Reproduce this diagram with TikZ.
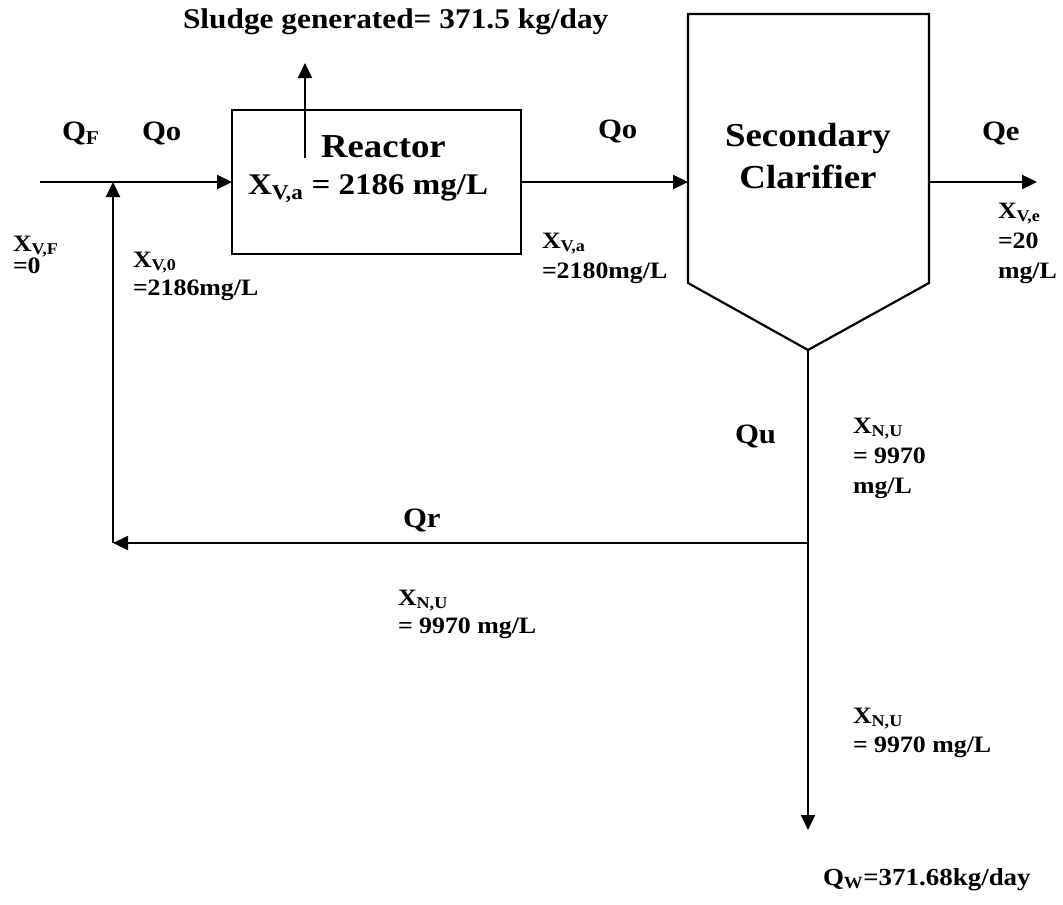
\documentclass[tikz,border=0pt]{standalone}
\usepackage{fontspec}
\setmainfont{Liberation Serif}[FakeStretch=1.1]
\usetikzlibrary{arrows.meta}
\newcommand\stk[1]{\begin{tabular}[t]{@{}l@{}}#1\end{tabular}}
\newcommand\stc[1]{\begin{tabular}[t]{@{}c@{}}#1\end{tabular}}
\begin{document}
\begin{tikzpicture}[x=1pt,y=-1pt,line width=2.2pt,
  flow/.style={-{Triangle[length=15pt,width=14pt]}},
  txt/.style={anchor=base west,inner sep=0pt,outer sep=0pt,font=\bfseries},
  qlab/.style={txt,font=\bfseries\fontsize{28}{30}\selectfont},
  small/.style={txt,font=\bfseries\fontsize{23.5}{#1}\selectfont},
  big/.style={font=\bfseries\fontsize{33.5}{42}\selectfont,inner sep=0pt}]
\useasboundingbox (0,0) rectangle (1063,905);
% units
\node (reactor) [draw,inner sep=0pt,outer sep=0pt,minimum width=289pt,minimum height=144pt,anchor=north west] at (232,110) {};
\draw (688,14) -- (929,14) -- (929,283) -- (808,350) -- (688,283) -- cycle;
\coordinate (clin) at (688,182);
\coordinate (clout) at (929,182);
\coordinate (clbot) at (808,350);
\coordinate (feedstart) at (40,182);
\coordinate (junc) at (113,182);
\coordinate (corner) at (113,543);
\coordinate (split) at (808,543);
\coordinate (effend) at (1037,182);
\coordinate (wasteend) at (808,830);
\coordinate (sl1) at (305,158);
\coordinate (sl2) at (305,63);
% connectors
\draw[flow] (feedstart) -- (reactor.west);
\draw[flow] (reactor.east) -- (clin);
\draw[flow] (clout) -- (effend);
\draw[flow] (clbot) -- (wasteend);
\draw[flow] (split) -- (corner);
\draw[flow] (corner) -- (junc);
\draw[flow] (sl1) -- (sl2);
% texts
\node (sludge) [txt,font=\bfseries\fontsize{28.5}{30}\selectfont] at (183,28) {Sludge generated= 371.5 kg/day};
\node (reacttitle) [txt,font=\bfseries\fontsize{33.5}{40}\selectfont] at (321,157) {Reactor};
\node (reactval) [txt,font=\bfseries\fontsize{30}{30}\selectfont] at (248,194) {X\textsubscript{V,a} = 2186 mg/L};
\node (clartitle) [big,anchor=base] at (808,146) {\stc{Secondary\\Clarifier}};
\node (qf) [qlab] at (62,140) {Q\textsubscript{F}};
\node (qo1) [qlab] at (142,140) {Qo};
\node (qo2) [qlab] at (598,138) {Qo};
\node (qe) [qlab] at (982,140) {Qe};
\node (qu) [qlab] at (735,443) {Qu};
\node (qr) [qlab] at (403,527) {Qr};
\node (xvf) [small=22] at (13,251) {\stk{X\textsubscript{V,F}\\=0}};
\node (xv0) [small=28] at (133,267) {\stk{X\textsubscript{V,0}\\=2186mg/L}};
\node (xva) [small=30] at (542,248) {\stk{X\textsubscript{V,a}\\=2180mg/L}};
\node (xve) [small=30] at (998,218) {\stk{X\textsubscript{V,e}\\=20\\mg/L}};
\node (xnu1) [small=30] at (853,433) {\stk{X\textsubscript{N,U}\\= 9970\\mg/L}};
\node (xnu2) [small=28] at (398,605) {\stk{X\textsubscript{N,U}\\= 9970 mg/L}};
\node (xnu3) [small=29] at (853,723) {\stk{X\textsubscript{N,U}\\= 9970 mg/L}};
\node (qw) [txt,font=\bfseries\fontsize{24.5}{30}\selectfont] at (823,885) {Q\textsubscript{W}=371.68kg/day};
\end{tikzpicture}
\end{document}
